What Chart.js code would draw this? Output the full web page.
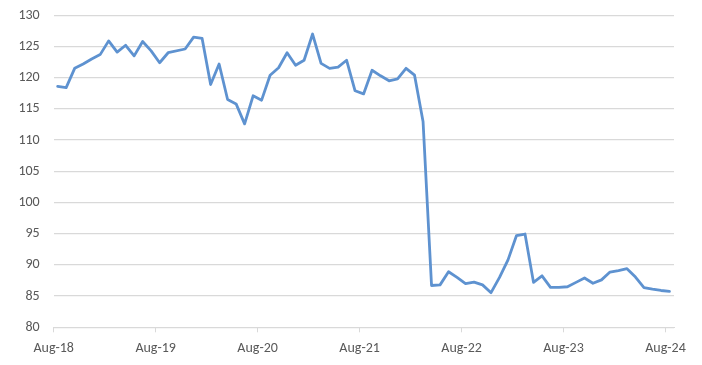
<!DOCTYPE html>
<html>
<head>
<meta charset="utf-8">
<script src="https://cdn.jsdelivr.net/npm/chart.js@4/dist/chart.umd.min.js"></script>
<style>
  html, body { margin: 0; padding: 0; background: #ffffff; }
  #wrap { width: 702px; height: 365px; position: relative; }
</style>
</head>
<body>
<div id="wrap"><canvas id="c"></canvas></div>
<script>
// Monthly observations (month, mid-month)
const dates = [
  "2018-08","2018-09","2018-10","2018-11","2018-12",
  "2019-01","2019-02","2019-03","2019-04","2019-05","2019-06","2019-07","2019-08","2019-09","2019-11","2019-12",
  "2020-01","2020-02","2020-03","2020-04","2020-05","2020-06","2020-07","2020-08","2020-09","2020-10","2020-11","2020-12",
  "2021-01","2021-02","2021-03","2021-04","2021-05","2021-06","2021-07","2021-08","2021-09","2021-10","2021-11","2021-12",
  "2022-01","2022-02","2022-03","2022-04","2022-05","2022-06","2022-07","2022-08","2022-09","2022-10","2022-11","2022-12",
  "2023-01","2023-02","2023-03","2023-04","2023-05","2023-06","2023-07","2023-08","2023-09","2023-10","2023-11","2023-12",
  "2024-01","2024-02","2024-03","2024-04","2024-05","2024-06","2024-07","2024-08"
];
const values = [
  118.6, 118.4, 121.5, 122.2, 123.0,
  123.7, 125.9, 124.1, 125.2, 123.5, 125.8, 124.3, 122.4, 124.0, 124.6, 126.5,
  126.3, 118.9, 122.2, 116.5, 115.8, 112.6, 117.1, 116.4, 120.4, 121.6, 124.0, 122.0,
  122.8, 127.0, 122.3, 121.5, 121.7, 122.8, 117.9, 117.4, 121.2, 120.3, 119.5, 119.8,
  121.5, 120.4, 113.0, 86.7, 86.8, 88.9, 88.0, 87.0, 87.25, 86.8, 85.55, 88.0,
  90.8, 94.7, 94.95, 87.2, 88.25, 86.4, 86.4, 86.5, 87.2, 87.9, 87.05, 87.6,
  88.85, 89.1, 89.4, 88.05, 86.35, 86.1, 85.9, 85.75
];
const tickLabels = ["Aug-18","Aug-19","Aug-20","Aug-21","Aug-22","Aug-23","Aug-24"];
const yTicks = [80, 85, 90, 95, 100, 105, 110, 115, 120, 125, 130];

// month offsets from Aug-18, observations taken mid-month
const startY = 2018, startM = 8;
function monthOffset(s) {
  const [y, m] = s.split("-").map(Number);
  return (y - startY) * 12 + (m - startM) + 14 / 30;
}
const points = dates.map((d, i) => ({ x: monthOffset(d), y: values[i] }));
const tickPositions = tickLabels.map((t, i) => i * 12);

const fontFam = "Carlito, Lato, 'Liberation Sans', sans-serif";

new Chart(document.getElementById('c'), {
  type: 'line',
  data: {
    datasets: [{
      data: points,
      borderColor: '#5E92D0',
      borderWidth: 2.8,
      pointRadius: 0,
      pointHoverRadius: 0,
      tension: 0,
      fill: false,
      borderJoinStyle: 'round',
      borderCapStyle: 'round'
    }]
  },
  options: {
    responsive: true,
    maintainAspectRatio: false,
    animation: false,
    events: [],
    layout: { padding: { left: 0, right: 28, top: 15.3, bottom: 0 } },
    plugins: { legend: { display: false }, tooltip: { enabled: false } },
    scales: {
      x: {
        type: 'linear',
        min: 0,
        max: 73,
        afterBuildTicks: (s) => { s.ticks = tickPositions.map(v => ({ value: v })); },
        afterFit: (s) => { s.height = 365 - 327.3; },
        ticks: {
          autoSkip: false,
          maxRotation: 0,
          color: '#595959',
          font: { family: fontFam, size: 14 },
          padding: 8,
          callback: (v) => tickLabels[tickPositions.indexOf(v)] ?? ''
        },
        grid: {
          drawOnChartArea: false,
          drawTicks: true,
          tickLength: 5,
          color: '#d9d9d9',
          lineWidth: 1
        },
        border: { display: true, color: '#d9d9d9', width: 1 }
      },
      y: {
        min: 80,
        max: 130,
        afterBuildTicks: (s) => { s.ticks = yTicks.map(v => ({ value: v })); },
        afterFit: (s) => { s.width = 53.7; s.paddingTop = 0; s.paddingBottom = 0; },
        ticks: {
          color: '#595959',
          font: { family: fontFam, size: 14 },
          padding: 14
        },
        grid: {
          drawTicks: false,
          color: '#d9d9d9',
          lineWidth: 1.3
        },
        border: { display: false }
      }
    }
  }
});
</script>
</body>
</html>
